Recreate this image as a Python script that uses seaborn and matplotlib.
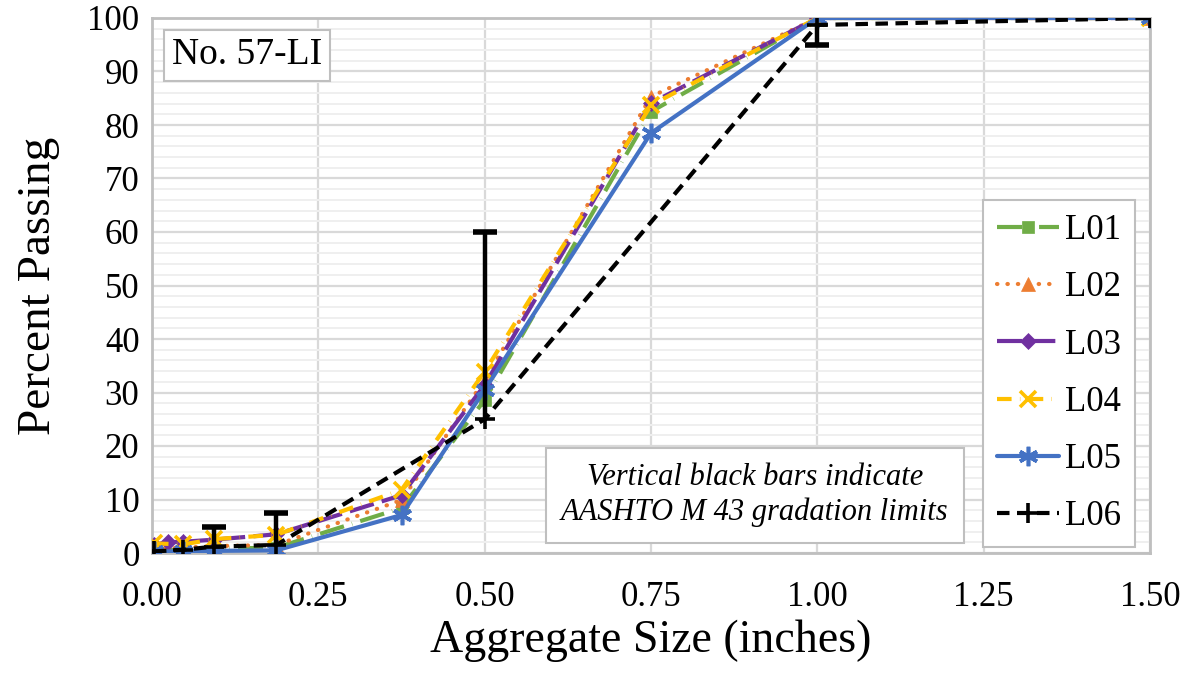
import numpy as np
import pandas as pd
import matplotlib
matplotlib.use("Agg")
import matplotlib.pyplot as plt
from matplotlib.ticker import MultipleLocator, FormatStrFormatter
import seaborn as sns

# ---------------- data ----------------
labs = ["L01", "L02", "L03", "L04", "L05", "L06"]

x_L01 = [0.0029, 0.0469, 0.0937, 0.187, 0.375, 0.5, 0.75, 1.0, 1.5]
y_L01 = [0.5, 0.6, 0.8, 1.0, 8.4, 28.6, 82.5, 100, 100]

x_L02 = [0.0029, 0.0469, 0.0937, 0.187, 0.375, 0.5, 0.75, 1.0, 1.5]
y_L02 = [0.8, 1.0, 1.3, 1.5, 9.9, 32.3, 85.3, 100, 100]

x_L03 = [0.0029, 0.0234, 0.0469, 0.0937, 0.187, 0.375, 0.5, 0.75, 1.0, 1.5]
y_L03 = [1.5, 2.0, 2.1, 2.5, 3.5, 10.8, 31.4, 84.1, 100, 100]

x_L04 = [0.0029, 0.0469, 0.0937, 0.187, 0.375, 0.5, 0.75, 1.0, 1.5]
y_L04 = [1.8, 1.6, 2.6, 3.4, 11.8, 33.9, 83.7, 100, 100]

x_L05 = [0.0029, 0.0469, 0.0937, 0.187, 0.375, 0.5, 0.75, 1.0, 1.5]
y_L05 = [0.3, 0.3, 0.4, 0.5, 7.1, 30.5, 78.5, 100, 100]

x_L06 = [0.0029, 0.0469, 0.0937, 0.187, 0.5, 1.0, 1.5]
y_L06 = [0.3, 0.6, 1.2, 1.5, 25.0, 98.7, 100]

# AASHTO M 43 limit bars (drawn from the L06 value to the limit)
bar_x = [0.0937, 0.187, 0.5, 1.0]
bar_from = [1.2, 1.5, 25.0, 98.7]
bar_to = [4.9, 7.5, 60.0, 95.0]

xs = [x_L01, x_L02, x_L03, x_L04, x_L05, x_L06]
ys = [y_L01, y_L02, y_L03, y_L04, y_L05, y_L06]

df = pd.concat(
    [pd.DataFrame({"size": x, "passing": y, "lab": lab}) for lab, x, y in zip(labs, xs, ys)],
    ignore_index=True,
)

# ---------------- styles ----------------
colors = {"L01": "#70AD47", "L02": "#ED7D31", "L03": "#7030A0",
          "L04": "#FFC000", "L05": "#4472C4", "L06": "#000000"}
markers = {"L01": "s", "L02": "^", "L03": "D", "L04": "x", "L05": (6, 2, 0), "L06": "+"}
msizes = {"L01": 9, "L02": 10, "L03": 8, "L04": 12, "L05": 14, "L06": 14}
styles = {"L01": (0, (6, 2, 0.1, 2)),
          "L02": (0, (0.1, 2.4)),
          "L03": (0, (6, 2)),
          "L04": (0, (3.5, 2, 0.1, 2)),
          "L05": "-",
          "L06": (0, (3, 1.8))}

sns.set_style("white")
plt.rcParams["font.family"] = ["Liberation Serif", "DejaVu Serif"]
plt.rcParams["text.color"] = "black"
plt.rcParams["axes.labelcolor"] = "black"
plt.rcParams["xtick.color"] = "black"
plt.rcParams["ytick.color"] = "black"

fig = plt.figure(figsize=(11.93, 6.86), dpi=100)
ax = fig.add_axes([152 / 1193, 1 - 553 / 686, (1150 - 152) / 1193, (553 - 18) / 686])

for lab in labs:
    sub = df[df["lab"] == lab]
    mk = markers[lab]
    thin = mk in ("x", "+") or isinstance(mk, tuple)
    sns.lineplot(data=sub, x="size", y="passing", ax=ax, color=colors[lab],
                 linestyle=styles[lab], linewidth=3.0, marker=mk,
                 markersize=msizes[lab], markeredgecolor=colors[lab],
                 markerfacecolor=colors[lab],
                 markeredgewidth=2.6 if thin else 0.5,
                 dash_capstyle="round" if lab == "L02" else "butt",
                 label=lab, errorbar=None, sort=True, zorder=3)

# limit bars
ax.vlines(bar_x, bar_from, bar_to, colors="black", linewidth=3.2, zorder=4)
ax.plot(bar_x, bar_to, linestyle="none", marker="_", markersize=17,
        markeredgewidth=4, color="black", zorder=4)

# ---------------- axes ----------------
ax.set_xlim(0, 1.5)
ax.set_ylim(0, 100)
ax.xaxis.set_major_locator(MultipleLocator(0.25))
ax.xaxis.set_minor_locator(MultipleLocator(0.05))
ax.xaxis.set_major_formatter(FormatStrFormatter("%.2f"))
ax.yaxis.set_major_locator(MultipleLocator(10))
ax.yaxis.set_minor_locator(MultipleLocator(2))

ax.grid(which="major", axis="both", color="#D9D9D9", linewidth=1.6, zorder=0)
ax.grid(which="minor", axis="y", color="#EFEFEF", linewidth=1.4, zorder=0)
ax.set_axisbelow(True)

for s in ax.spines.values():
    s.set_visible(True)
    s.set_color("#BFBFBF")
    s.set_linewidth(2)

ax.tick_params(axis="x", which="both", direction="out", length=8, width=1.6,
               color="#BFBFBF", labelsize=25, pad=12, labelcolor="black")
ax.tick_params(axis="y", which="both", length=0, labelsize=25, pad=9, labelcolor="black")

ax.set_xlabel("Aggregate Size (inches)", fontsize=33, labelpad=4)
ax.set_ylabel("Percent Passing", fontsize=34, labelpad=20)

leg = ax.legend(loc="lower right", bbox_to_anchor=(0.988, 0.004), fontsize=25,
                frameon=True, fancybox=False, edgecolor="#BFBFBF", framealpha=1,
                handlelength=1.8, labelspacing=0.7, borderpad=0.4,
                handletextpad=0.15, borderaxespad=0.1)
leg.get_frame().set_linewidth(1.5)

ax.text(0.02, 0.963, "No. 57-LI", transform=ax.transAxes, fontsize=27,
        ha="left", va="top",
        bbox=dict(boxstyle="square,pad=0.22", facecolor="white", edgecolor="#BFBFBF", linewidth=1.5),
        zorder=6)

ax.text(0.604, 0.108, "Vertical black bars indicate\nAASHTO M 43 gradation limits",
        transform=ax.transAxes, fontsize=22, style="italic", ha="center", va="center",
        linespacing=1.25,
        bbox=dict(boxstyle="square,pad=0.5", facecolor="white", edgecolor="#BFBFBF", linewidth=1.5),
        zorder=6)

fig.savefig("out.png", dpi=100)
